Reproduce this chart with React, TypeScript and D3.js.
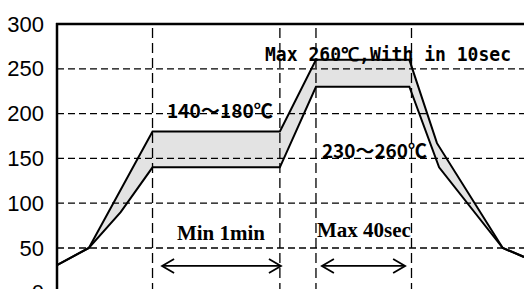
import React from 'react';
import * as d3 from 'd3';

// reflow profile (time in s, temperature in deg C)
const timeUpper = [0, 15, 45, 105, 122, 166, 179, 210, 220];
const tempUpper = [31, 50, 180, 180, 260, 260, 167, 50, 40];
const timeLower = [0, 15, 30, 45, 105, 122, 166, 180, 210, 220];
const tempLower = [31, 50, 90, 140, 140, 230, 230, 140, 50, 40];

const yTicks = [0, 50, 100, 150, 200, 250, 300];
const gridTemps = [50, 100, 150, 200, 250];
const markerTimes = [45, 105, 122, 167];
const arrowSpans: [number, number][] = [[49.5, 105.5], [124.8, 164]];

const W = 524;
const H = 289;

export default function App() {
  const x = d3.scaleLinear().domain([0, 220]).range([57, 524]);
  const y = d3.scaleLinear().domain([0, 300]).range([292.8, 24]);

  const upper = timeUpper.map((t, i) => [t, tempUpper[i]] as [number, number]);
  const lower = timeLower.map((t, i) => [t, tempLower[i]] as [number, number]);

  const line = d3.line<[number, number]>().x(d => x(d[0])).y(d => y(d[1]));
  const band = line([...upper, ...lower.slice().reverse()]) + 'Z';

  const gothic = '"Noto Sans CJK JP", "DejaVu Sans", sans-serif';
  const serif = '"Liberation Serif", "Times New Roman", serif';

  const arrowY = y(30);

  return (
    <svg
      width={W}
      height={H}
      style={{ position: 'absolute', left: 0, top: 0, background: '#fff' }}
    >
      {/* shaded window between the two limits */}
      <path d={band} fill="#e3e3e3" stroke="none" />

      {/* dashed grid */}
      {gridTemps.map(v => (
        <line key={'h' + v} x1={x(0)} x2={W} y1={y(v)} y2={y(v)}
          stroke="#000" strokeWidth={1.3} strokeDasharray="7,4" />
      ))}
      {markerTimes.map(t => (
        <line key={'v' + t} x1={x(t)} x2={x(t)} y1={y(300) + 4} y2={H + 10}
          stroke="#000" strokeWidth={1.3} strokeDasharray="10,5" />
      ))}

      {/* axes */}
      <line x1={x(0)} x2={x(0)} y1={y(300) - 1} y2={H + 10} stroke="#000" strokeWidth={2.5} />
      <line x1={x(0) - 1} x2={W} y1={y(300)} y2={y(300)} stroke="#000" strokeWidth={2.5} />
      {yTicks.map(v => (
        <text key={'t' + v} x={44} y={y(v)} dy={7.5} textAnchor="end"
          fontFamily='"Liberation Sans Narrow", "Liberation Sans", Arial, sans-serif'
          fontSize={22} fill="#000">{v}</text>
      ))}

      {/* limit curves */}
      <path d={line(upper) || ''} fill="none" stroke="#000" strokeWidth={2} strokeLinejoin="miter" />
      <path d={line(lower) || ''} fill="none" stroke="#000" strokeWidth={2} strokeLinejoin="miter" />

      {/* labels */}
      <text x={x(51.8)} y={y(195)} fontFamily={gothic} fontSize={19} fontWeight="bold"
        textLength={106} lengthAdjust="spacingAndGlyphs">140～180℃</text>
      <text x={x(98)} y={y(258.7)} fontFamily='"DejaVu Sans Mono", monospace' fontSize={19} fontWeight="bold"
        textLength={246} lengthAdjust="spacingAndGlyphs">Max 260℃,With in 10sec</text>
      <text x={x(124.8)} y={y(150.4)} fontFamily={gothic} fontSize={19} fontWeight="bold"
        textLength={105} lengthAdjust="spacingAndGlyphs">230～260℃</text>
      <text x={x(56.5)} y={y(59)} fontFamily={serif} fontSize={21} fontWeight="bold">Min 1min</text>
      <text x={x(122.5)} y={y(62.3)} fontFamily={serif} fontSize={21} fontWeight="bold">Max 40sec</text>

      {/* double arrows */}
      {arrowSpans.map(([a, b], i) => {
        const x1 = x(a);
        const x2 = x(b);
        return (
          <g key={'a' + i} fill="none" stroke="#000" strokeWidth={1.8}>
            <line x1={x1} x2={x2} y1={arrowY} y2={arrowY} />
            <polyline points={`${x1 + 12},${arrowY - 7} ${x1},${arrowY} ${x1 + 12},${arrowY + 7}`} />
            <polyline points={`${x2 - 12},${arrowY - 7} ${x2},${arrowY} ${x2 - 12},${arrowY + 7}`} />
          </g>
        );
      })}
    </svg>
  );
}
